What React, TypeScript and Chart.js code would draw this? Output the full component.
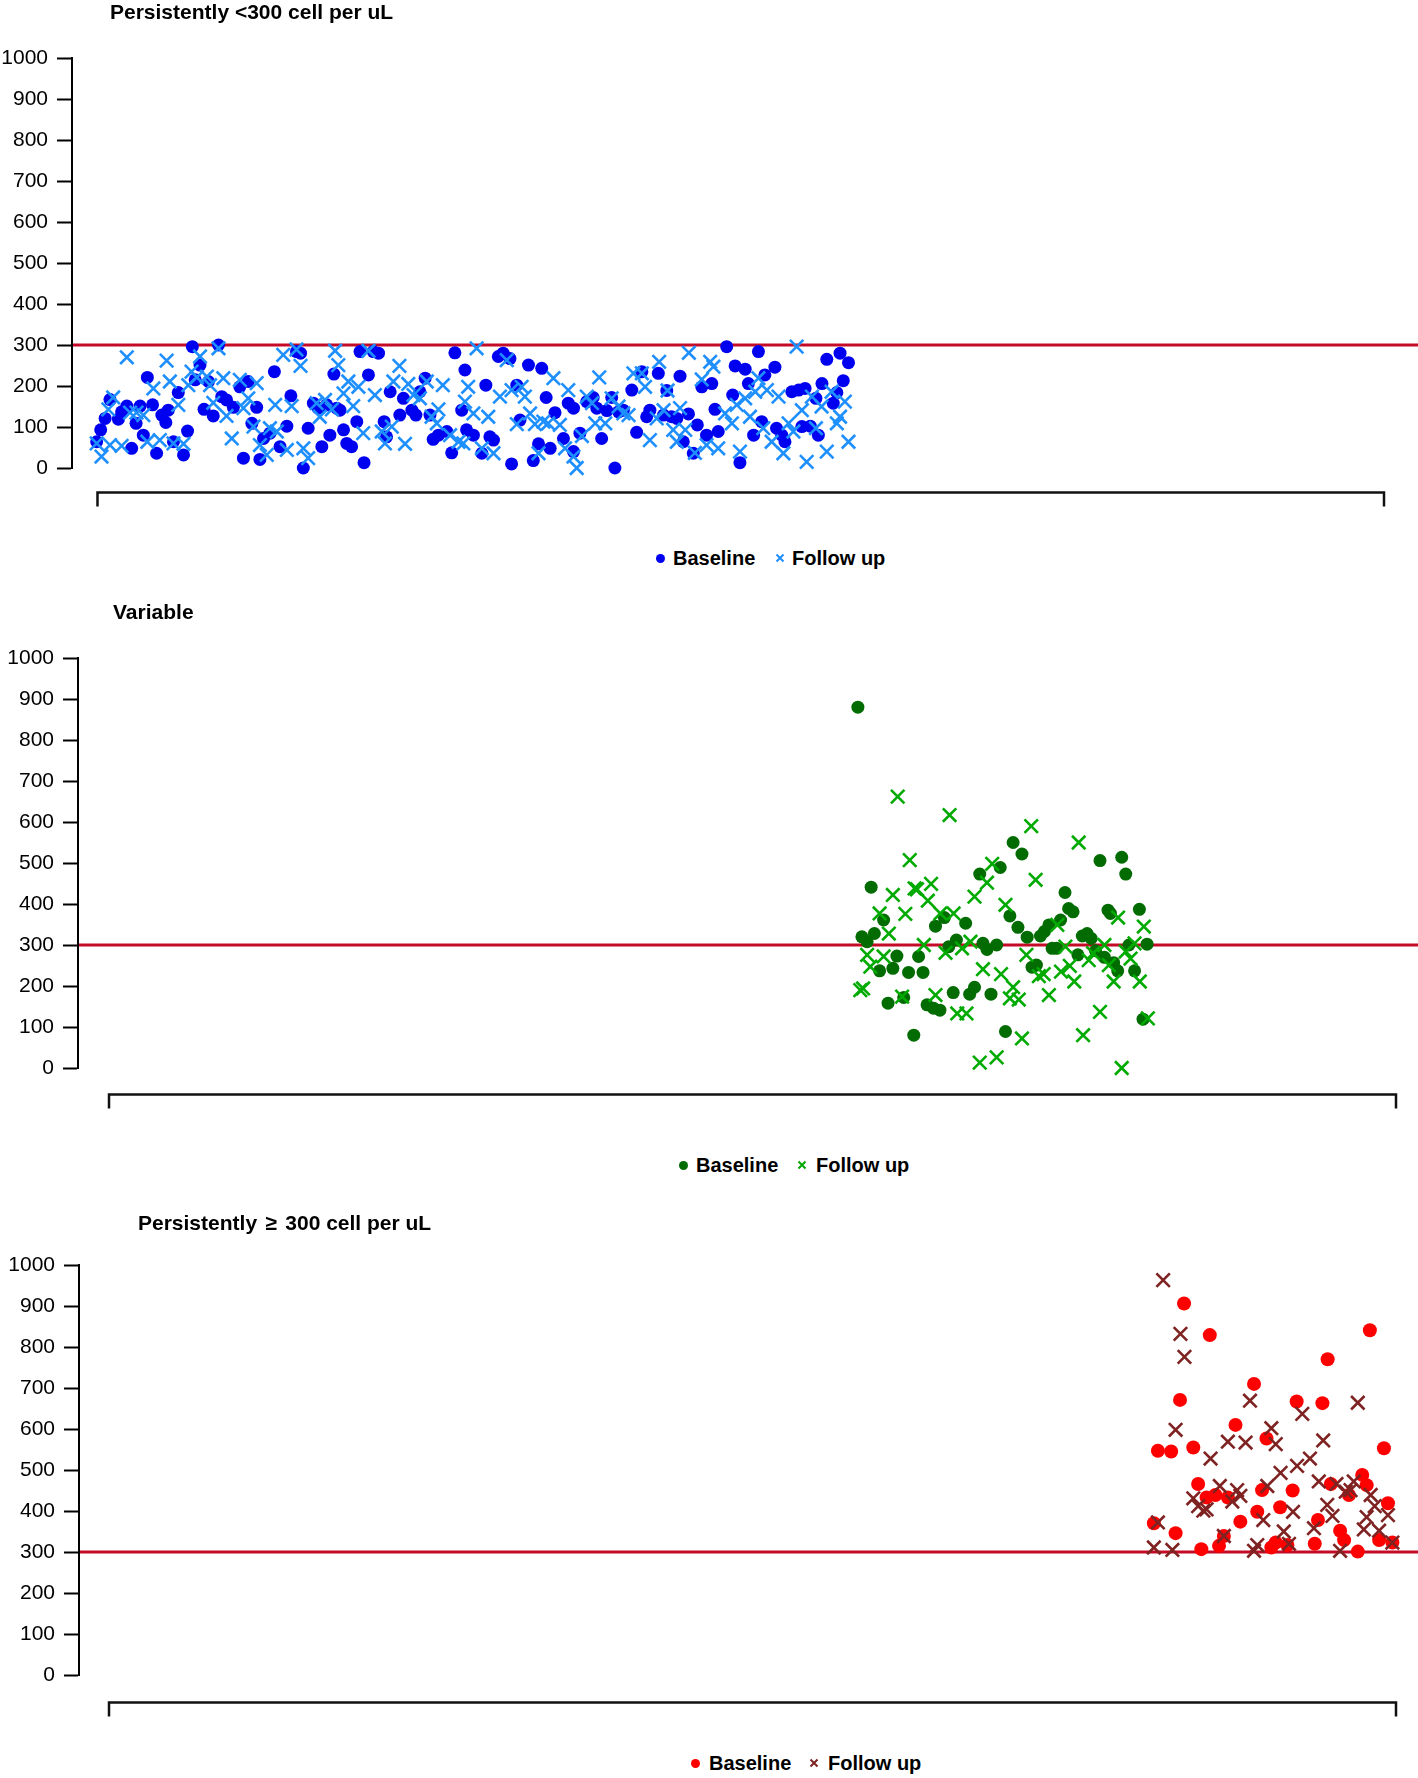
import React, { useEffect, useRef } from "react";
import { Chart, registerables } from "chart.js";

Chart.register(...registerables);

const FONT = "'Liberation Sans', Arial, Helvetica, sans-serif";

// ---- axis values ----
const yMin = 0;
const yMax = 1000;
const yStep = 100;
const threshold = 300; // cells per uL
const patientIndexMax = 320;

const seriesNames = ["Baseline", "Follow up"];
const panelTitles = [
  "Persistently <300 cell per uL",
  "Variable",
  "Persistently \u2265 300 cell per uL",
];

type Pt = [number, number]; // [patient index, cells per uL]

// ---- panel 1: persistently < 300 ----
const p1Baseline: Pt[] = [
  [-0.2,64],[0.8,93],[1.9,121],[3.1,167],[5.2,119],[6.0,137],[7.3,151],[8.5,48],[9.6,109],[10.6,151],
  [11.4,80],[12.4,221],[13.7,154],[14.7,36],[16.0,129],[17.0,111],[17.6,141],[18.9,64],[20.1,184],[21.4,32],
  [22.4,90],[23.6,296],[24.3,215],[25.5,251],[26.5,143],[27.6,211],[28.8,127],[30.1,300],[30.9,174],[32.1,166],
  [33.8,148],[35.4,198],[36.3,24],[37.5,211],[38.4,109],[39.6,148],[40.4,21],[41.3,72],[42.9,85],[44.0,235],
  [45.4,52],[47.1,102],[48.1,176],[49.5,284],[50.5,280],[51.2,0],[52.4,97],[53.7,158],[54.9,146],[55.8,52],
  [57.0,154],[57.8,80],[58.8,229],[59.5,146],[60.3,141],[61.2,93],[62.0,60],[63.2,52],[64.5,113],[65.3,284],
  [66.3,13],[67.4,227],[68.6,284],[69.9,280],[71.3,113],[71.9,76],[72.8,186],[75.2,129],[76.1,170],[78.2,141],
  [79.2,129],[80.2,186],[81.5,219],[82.7,129],[83.5,70],[84.8,80],[86.9,89],[88.1,37],[88.9,281],[90.6,141],
  [91.4,239],[91.8,93],[93.5,80],[95.6,36],[96.6,202],[97.6,76],[98.5,68],[99.7,272],[100.9,280],[102.6,267],
  [103.0,10],[104.3,202],[105.1,117],[107.2,251],[108.4,18],[109.7,59],[110.5,243],[111.6,172],[112.6,48],[113.8,135],
  [115.9,72],[117.1,158],[118.4,146],[118.4,40],[120.0,85],[121.7,162],[123.3,172],[124.2,146],[125.4,72],[126.7,140],
  [127.9,172],[128.7,0],[129.6,137],[130.8,141],[132.9,190],[134.1,87],[135.4,235],[136.6,125],[137.4,141],[139.5,231],
  [140.8,129],[141.6,189],[142.8,125],[144.1,121],[144.9,224],[145.7,64],[147.0,132],[148.2,36],[149.2,105],[150.3,198],
  [151.5,80],[152.8,206],[153.6,143],[154.4,89],[156.5,296],[158.0,178],[158.6,249],[159.8,13],[161.1,241],[161.9,206],
  [163.2,80],[164.4,284],[165.2,113],[166.0,227],[168.5,246],[168.9,97],[170.2,80],[171.0,64],[172.7,186],[174.4,190],
  [176.0,194],[175.2,101],[177.3,102],[178.7,170],[179.3,80],[180.2,206],[181.4,265],[183.0,158],[183.9,184],[184.7,280],
  [185.5,213],[186.8,257],
];
const p1FollowUp: Pt[] = [
  [-0.2,60],[1.0,28],[2.7,143],[3.9,172],[3.1,56],[6.0,54],[7.3,270],[8.1,135],[9.7,135],[11.4,129],
  [12.4,64],[13.9,194],[15.5,68],[17.2,262],[18.0,211],[20.1,154],[21.4,59],[18.9,60],[22.6,202],[23.4,235],
  [24.7,221],[25.5,272],[27.2,223],[28.0,202],[30.1,292],[28.8,159],[31.3,219],[32.1,127],[33.4,72],[35.4,215],
  [37.5,170],[36.3,146],[39.6,207],[38.8,101],[40.4,56],[42.1,32],[42.9,97],[44.6,89],[44.2,154],[46.2,276],
  [47.1,44],[48.3,151],[49.5,289],[50.5,249],[51.2,48],[52.4,24],[54.5,158],[56.6,166],[55.3,125],[58.3,143],
  [59.1,286],[59.9,251],[61.2,182],[62.4,211],[63.6,151],[64.9,198],[66.1,85],[67.4,286],[69.0,178],[70.7,89],
  [71.5,60],[73.2,101],[73.6,211],[75.1,249],[76.5,59],[77.3,205],[78.6,178],[80.2,170],[81.9,211],[83.1,125],
  [84.4,109],[85.9,202],[84.8,143],[87.7,80],[89.8,64],
  [91.0,60],[92.2,198],[91.4,162],[93.5,133],[94.3,292],[95.6,48],[97.2,125],[98.5,36],[100.1,174],[101.8,263],
  [103.0,190],[104.3,107],[105.5,198],[106.3,174],[107.6,133],[108.8,107],[109.7,36],[110.9,113],[112.1,109],[113.4,219],
  [115.0,105],[116.3,48],[117.1,190],[118.4,28],[119.2,0],[120.5,78],[121.7,174],[123.0,158],[123.8,109],[124.8,221],
  [126.3,109],[127.9,170],[129.6,150],[130.8,133],[132.1,129],[133.3,231],[135.4,231],[136.2,198],[137.4,68],[139.1,121],
  [139.7,259],[140.8,141],[141.8,189],[143.2,93],[144.1,64],[144.9,146],[146.2,93],[147.1,281],[148.6,37],[150.3,216],
  [151.5,56],[152.4,259],[153.2,247],[154.4,48],[156.1,133],[157.8,109],[159.0,154],[159.8,40],[161.1,170],[162.3,125],
  [163.6,186],[164.4,219],[165.6,97],[166.5,190],[167.7,64],[169.4,174],[170.6,36],[171.9,109],[173.1,89],[173.9,296],
  [175.2,141],[176.4,15],[177.7,174],[178.7,97],[180.1,150],[181.4,40],[182.6,186],[183.9,109],[184.7,125],[185.9,162],
  [186.8,64],
];

// ---- panel 2: variable ----
const p2Baseline: Pt[] = [
  [186.2,880],[189.5,441],[187.2,320],[188.5,308],[190.3,328],[192.6,361],[191.6,237],[193.7,158],[194.9,243],[195.9,273],
  [197.6,172],[198.8,233],[200.1,80],[201.3,272],[202.4,233],[203.4,154],[205.0,146],[206.6,141],[205.5,346],[207.7,367],
  [208.8,296],[209.9,184],[210.7,312],[213.0,353],[214.0,180],[215.2,197],[216.5,473],[217.3,304],[218.3,289],[219.3,180],
  [220.7,300],[221.6,489],[222.9,89],[224.0,371],[224.8,550],[226.0,343],[227.0,522],[228.3,319],[229.5,246],[230.6,251],
  [231.6,322],[232.6,333],[233.7,349],[234.5,292],[235.6,292],[236.6,361],[237.7,428],[238.6,389],[239.7,381],[240.9,276],
  [242.0,322],[243.2,328],[244.2,316],[245.3,286],[246.4,506],[247.5,270],[248.4,385],[249.0,377],[249.8,257],[250.8,237],
  [251.8,514],[252.8,473],[253.6,300],[255.0,237],[256.2,387],[257.1,119],[258.1,302],
];
const p2FollowUp: Pt[] = [
  [186.8,190],[187.5,194],[188.5,276],[189.3,247],[191.6,377],[192.6,272],[193.9,328],[194.9,422],[196.1,662],[197.2,174],
  [198.0,376],[199.1,507],[200.3,438],[200.9,436],[202.6,300],[203.6,408],[204.4,449],[205.5,178],[206.7,377],[208.0,281],
  [209.0,617],[210.0,377],[210.9,133],[212.1,292],[213.2,133],[214.2,308],[215.2,418],[216.5,13],[217.3,241],[218.3,452],
  [219.6,498],[220.7,26],[221.8,229],[222.9,398],[224.0,170],[224.8,197],[226.2,167],[227.0,72],[228.1,276],[229.3,590],
  [230.4,459],[231.2,224],[232.4,229],[233.7,178],[235.8,349],[236.7,235],[237.8,296],[238.9,249],[240.0,211],[241.1,550],
  [242.2,80],[243.6,263],[244.7,280],[246.4,137],[247.5,300],[248.6,251],[249.8,211],[250.9,367],[251.8,0],[252.8,284],
  [254.0,267],[255.0,304],[256.3,211],[257.3,345],[258.3,121],
];

// ---- panel 3: persistently >= 300 ----
const p3Baseline: Pt[] = [
  [259.8,370],[260.8,547],[264.1,545],[265.2,346],[266.3,671],[267.3,906],[269.6,555],[270.8,466],[271.6,307],[272.9,433],
  [273.7,829],[275.1,439],[276.0,315],[277.2,339],[278.2,433],[280.1,610],[281.3,374],[284.7,710],[285.5,398],[286.7,451],
  [287.8,577],[289.0,311],[290.1,323],[291.2,409],[293.0,317],[294.3,450],[295.3,667],[299.8,320],[300.6,378],[301.7,663],
  [303.0,770],[303.8,466],[306.1,352],[307.1,329],[308.3,439],[310.5,301],[311.6,488],[312.7,463],[313.5,841],[315.8,329],
  [317.0,553],[318.0,419],[319.1,323],
];
const p3FollowUp: Pt[] = [
  [259.8,311],[260.8,372],[262.1,963],[264.4,305],[265.2,598],[266.4,832],[267.4,776],[269.6,431],[270.8,412],[272.1,401],
  [272.9,404],[273.9,528],[276.2,461],[277.2,339],[278.2,569],[279.3,423],[280.5,451],[281.3,437],[282.6,567],[283.7,669],
  [284.7,303],[285.5,317],[287.0,378],[288.0,461],[289.0,602],[290.1,563],[291.3,493],[292.1,350],[293.4,320],[294.4,398],
  [295.4,510],[296.7,637],[298.6,528],[299.6,358],[300.8,472],[301.9,572],[302.9,415],[304.2,388],[305.2,466],[306.1,303],
  [307.5,447],[308.7,451],[309.5,472],[310.5,664],[312.0,355],[312.7,385],[313.7,439],[314.7,412],[315.8,352],[318.0,390],
  [319.1,323],
];

// ---- styling / layout (not data) ----
const THRESHOLD_COLOR = "#C40A26";

interface PanelSpec {
  title: string;
  baseline: Pt[];
  followUp: Pt[];
  baselineColor: string;
  followColor: string;
  baselineRadius: number;
  top: number;
  height: number;
  padTop: number;
  padBottom: number;
  padRight: number;
  axisWidth: number;
  xMin: number;
  bracketGap: number;
  titleLeft: number;
  titleTop: number;
  legendY: number;
  legendDotX: number;
  legendBaseX: number;
  legendCrossX: number;
  legendFollowX: number;
}

const panels: PanelSpec[] = [
  {
    title: panelTitles[0], baseline: p1Baseline, followUp: p1FollowUp,
    baselineColor: "#0000F0", followColor: "#1E8FFF", baselineRadius: 6.5,
    top: 0, height: 520, padTop: 58, padBottom: 52, padRight: 34, axisWidth: 72, xMin: -6.34, bracketGap: 24,
    titleLeft: 110, titleTop: 1,
    legendY: 558, legendDotX: 660, legendBaseX: 673, legendCrossX: 780, legendFollowX: 792,
  },
  {
    title: panelTitles[1], baseline: p2Baseline, followUp: p2FollowUp,
    baselineColor: "#026B02", followColor: "#00AA00", baselineRadius: 6.5,
    top: 560, height: 560, padTop: 98, padBottom: 52, padRight: 22, axisWidth: 78, xMin: -7.71, bracketGap: 26,
    titleLeft: 113, titleTop: 601,
    legendY: 1165, legendDotX: 683, legendBaseX: 696, legendCrossX: 802, legendFollowX: 816,
  },
  {
    title: panelTitles[2], baseline: p3Baseline, followUp: p3FollowUp,
    baselineColor: "#FF0000", followColor: "#7F2222", baselineRadius: 7,
    top: 1180, height: 545, padTop: 85, padBottom: 50, padRight: 22, axisWidth: 79, xMin: -7.46, bracketGap: 27,
    titleLeft: 138, titleTop: 1212,
    legendY: 1763, legendDotX: 695, legendBaseX: 709, legendCrossX: 814, legendFollowX: 828,
  },
];

const decorPlugin = {
  id: "decor",
  beforeDatasetsDraw(chart: any) {
    const { ctx, chartArea, scales } = chart;
    const y = scales.y.getPixelForValue(threshold);
    ctx.save();
    ctx.strokeStyle = THRESHOLD_COLOR;
    ctx.lineWidth = 3;
    ctx.beginPath();
    ctx.moveTo(chartArea.left + 1, y);
    ctx.lineTo(chart.width, y);
    ctx.stroke();
    ctx.restore();
  },
  afterDraw(chart: any, _args: any, opts: any) {
    const { ctx, chartArea, scales } = chart;
    const gap = opts.gap || 24;
    const y = Math.round(chartArea.bottom + gap) + 0.5;
    const x0 = scales.x.getPixelForValue(0);
    const x1 = scales.x.getPixelForValue(patientIndexMax);
    ctx.save();
    ctx.strokeStyle = "#111";
    ctx.lineWidth = 2.5;
    ctx.beginPath();
    ctx.moveTo(x0, y + 14);
    ctx.lineTo(x0, y);
    ctx.lineTo(x1, y);
    ctx.lineTo(x1, y + 14);
    ctx.stroke();
    ctx.restore();
  },
};

function PanelChart({ spec }: { spec: PanelSpec }) {
  const ref = useRef<HTMLCanvasElement>(null);
  useEffect(() => {
    if (!ref.current) return;
    const chart = new Chart(ref.current, {
      type: "scatter",
      data: {
        datasets: [
          {
            label: seriesNames[1],
            data: spec.followUp.map(([x, y]) => ({ x, y })),
            pointStyle: "crossRot",
            pointRadius: 9.5,
            pointHoverRadius: 9.5,
            pointBorderWidth: 2.6,
            pointBorderColor: spec.followColor,
            pointBackgroundColor: spec.followColor,
            borderColor: spec.followColor,
            backgroundColor: spec.followColor,
            order: 0,
            clip: false,
          } as any,
          {
            label: seriesNames[0],
            data: spec.baseline.map(([x, y]) => ({ x, y })),
            pointStyle: "circle",
            pointRadius: spec.baselineRadius,
            pointHoverRadius: spec.baselineRadius,
            pointBorderWidth: 0,
            pointBorderColor: spec.baselineColor,
            pointBackgroundColor: spec.baselineColor,
            borderColor: spec.baselineColor,
            backgroundColor: spec.baselineColor,
            order: 1,
            clip: false,
          } as any,
        ],
      },
      options: {
        responsive: false,
        animation: false,
        devicePixelRatio: 1,
        events: [],
        layout: { padding: { top: spec.padTop, bottom: spec.padBottom, left: 0, right: spec.padRight } },
        plugins: {
          legend: { display: false },
          tooltip: { enabled: false },
          title: { display: false },
          decor: { gap: spec.bracketGap },
        } as any,
        scales: {
          x: { type: "linear", min: spec.xMin, max: patientIndexMax, display: false },
          y: {
            type: "linear",
            min: yMin,
            max: yMax,
            afterFit: (s: any) => { s.width = spec.axisWidth; },
            ticks: {
              stepSize: yStep,
              color: "#000",
              font: { family: FONT, size: 21 },
              padding: 9,
              callback: (v: any) => String(v),
            },
            grid: { drawOnChartArea: false, drawTicks: true, tickLength: 15, tickColor: "#000", tickWidth: 2 },
            border: { display: true, color: "#000", width: 2 },
          },
        },
      } as any,
      plugins: [decorPlugin],
    });
    return () => chart.destroy();
  }, [spec]);
  return (
    <canvas
      ref={ref}
      width={1418}
      height={spec.height}
      style={{ position: "absolute", left: 0, top: spec.top, width: 1418, height: spec.height }}
    />
  );
}

function TitleText({ text }: { text: string }) {
  // give the "≥" sign the wider side spacing seen in the original
  const parts = text.split("\u2265");
  if (parts.length === 1) return <>{text}</>;
  return (
    <>
      {parts[0]}
      <span style={{ margin: "0 2.5px" }}>{"\u2265"}</span>
      {parts[1]}
    </>
  );
}

function PanelText({ spec }: { spec: PanelSpec }) {
  const textTop = spec.legendY - 10;
  return (
    <>
      <div
        style={{
          position: "absolute", left: spec.titleLeft, top: spec.titleTop, font: `bold 21px ${FONT}`,
          lineHeight: "21px", whiteSpace: "nowrap", color: "#000",
        }}
      >
        <TitleText text={spec.title} />
      </div>
      <div
        style={{
          position: "absolute", left: spec.legendDotX - 4.5, top: spec.legendY - 4.5, width: 9, height: 9,
          borderRadius: "50%", background: spec.baselineColor,
        }}
      />
      <div
        style={{
          position: "absolute", left: spec.legendBaseX, top: textTop, font: `bold 20px ${FONT}`,
          lineHeight: "20px", whiteSpace: "nowrap", color: "#000",
        }}
      >
        {seriesNames[0]}
      </div>
      <svg
        width={10}
        height={10}
        style={{ position: "absolute", left: spec.legendCrossX - 5, top: spec.legendY - 5 }}
      >
        <path d="M1.5 1.5L8.5 8.5M8.5 1.5L1.5 8.5" stroke={spec.followColor} strokeWidth={2} fill="none" />
      </svg>
      <div
        style={{
          position: "absolute", left: spec.legendFollowX, top: textTop, font: `bold 20px ${FONT}`,
          lineHeight: "20px", whiteSpace: "nowrap", color: "#000",
        }}
      >
        {seriesNames[1]}
      </div>
    </>
  );
}

export default function App() {
  return (
    <div
      style={{
        position: "absolute", left: 0, top: 0, width: 1418, height: 1778, overflow: "hidden",
        background: "#fff", fontFamily: FONT,
      }}
    >
      {panels.map((p, i) => (
        <React.Fragment key={i}>
          <PanelChart spec={p} />
          <PanelText spec={p} />
        </React.Fragment>
      ))}
    </div>
  );
}
